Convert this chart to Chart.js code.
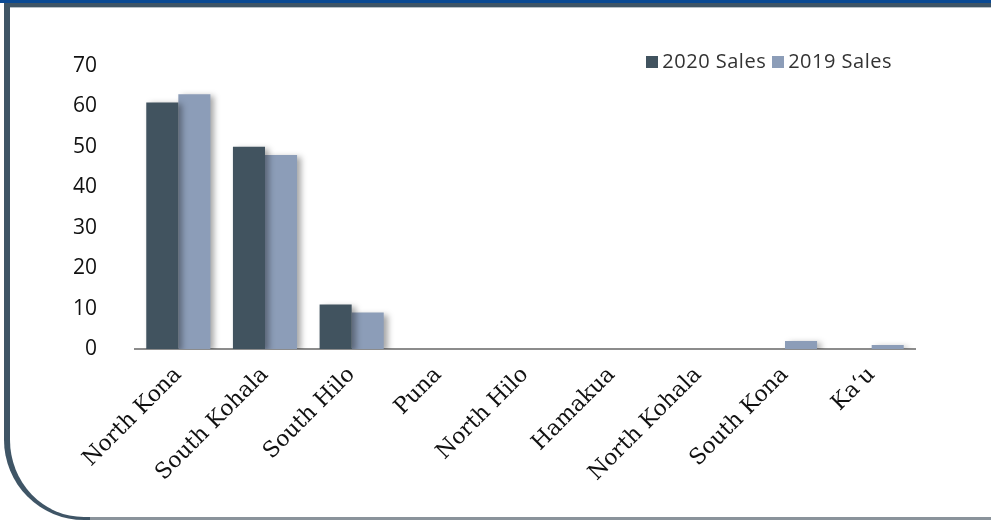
<!DOCTYPE html>
<html>
<head>
<meta charset="utf-8">
<script src="https://cdn.jsdelivr.net/npm/chart.js@4/dist/chart.umd.min.js"></script>
<style>
    html, body { margin: 0; padding: 0; background: #fff; }
    #wrap { position: relative; width: 991px; height: 520px; overflow: hidden; }
    #topbar { position: absolute; left: 0; top: 0; width: 991px; height: 3px; background: #0a4a94; }
    #frame {
        position: absolute; left: 4px; top: 3px; width: 1000px; height: 510px;
        border-top: 4px solid #3f5566; border-left: 6px solid #3f5566;
        border-bottom: 3px solid #3f5566;
        border-bottom-left-radius: 80px;
    }
    #inner { position: absolute; left: 10px; top: 7px; width: 981px; height: 1px; background: #b8c0c6; }
    #bottomline { position: absolute; left: 90px; top: 517px; width: 901px; height: 3px; background: #8a939b; }
    canvas { position: absolute; left: 0; top: 0; }
    #legend {
        position: absolute; top: 47px; right: 99px;
        font-family: "Open Sans", sans-serif; font-size: 20px; letter-spacing: 0.5px; color: #333;
        display: flex; align-items: center; gap: 6px;
    }
    #legend span.box { display: inline-block; width: 12px; height: 12px; margin-right: 4px; }
</style>
</head>
<body>
<div id="wrap">
    <div id="topbar"></div>
    <div id="frame"></div>
    <div id="inner"></div>
    <div id="bottomline"></div>
    <canvas id="chart" width="991" height="520"></canvas>
    <div id="legend"></div>
</div>
<script>
// Home sales by district
const districts = ['North Kona', 'South Kohala', 'South Hilo', 'Puna', 'North Hilo', 'Hamakua', 'North Kohala', 'South Kona', 'Ka\u02bbu'];
const sales2020 = [61, 50, 11, 0, 0, 0, 0, 0, 0];
const sales2019 = [63, 48, 9, 0, 0, 0, 0, 2, 1];
const seriesNames = ['2020 Sales', '2019 Sales'];
const seriesColors = ['#41535f', '#8c9db8'];
const yTicks = [0, 10, 20, 30, 40, 50, 60, 70];

// soft drop shadow behind the bars
const barShadow = {
    id: 'barShadow',
    beforeDatasetsDraw(chart) {
        const ctx = chart.ctx;
        ctx.save();
        ctx.shadowColor = 'rgba(0, 0, 0, 0.35)';
        ctx.shadowBlur = 6;
        ctx.shadowOffsetX = 4;
        ctx.shadowOffsetY = 2;
    },
    afterDatasetsDraw(chart) {
        chart.ctx.restore();
    }
};

// html legend
const legendEl = document.getElementById('legend');
seriesNames.forEach(function(name, i) {
    const item = document.createElement('span');
    item.innerHTML = '<span class="box" style="background:' + seriesColors[i] + '"></span>' + name;
    legendEl.appendChild(item);
});

const ctx = document.getElementById('chart').getContext('2d');
new Chart(ctx, {
    type: 'bar',
    data: {
        labels: districts,
        datasets: [
            { label: seriesNames[0], data: sales2020, backgroundColor: seriesColors[0] },
            { label: seriesNames[1], data: sales2019, backgroundColor: seriesColors[1] }
        ]
    },
    options: {
        responsive: false,
        animation: false,
        categoryPercentage: 0.74,
        barPercentage: 1.0,
        layout: { padding: { top: 66, left: 48, right: 76, bottom: 0 } },
        plugins: {
            legend: { display: false },
            tooltip: { enabled: false }
        },
        scales: {
            x: {
                grid: { display: false },
                border: { color: '#8c8c8c', width: 2 },
                afterFit: function(axis) { axis.height = 171; },
                ticks: {
                    color: '#111',
                    font: { family: 'DejaVu Serif', size: 22 },
                    minRotation: 45,
                    maxRotation: 45,
                    padding: 5
                }
            },
            y: {
                min: 0,
                max: 70,
                afterBuildTicks: function(axis) {
                    axis.ticks = yTicks.map(function(v) { return { value: v }; });
                },
                afterFit: function(axis) { axis.width = 87; },
                grid: { display: false },
                border: { display: false },
                ticks: {
                    color: '#111',
                    font: { family: '"Open Sans", sans-serif', size: 21 },
                    padding: 30
                }
            }
        }
    },
    plugins: [barShadow]
});
</script>
</body>
</html>
